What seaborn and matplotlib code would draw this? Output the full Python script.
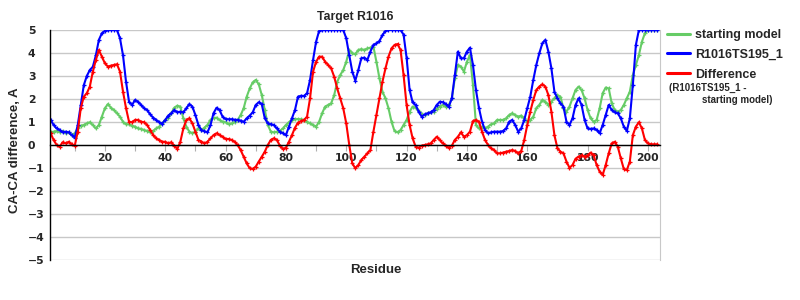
import numpy as np
import pandas as pd
import matplotlib
matplotlib.use("Agg")
import matplotlib.pyplot as plt
import seaborn as sns
from matplotlib.lines import Line2D

residues = list(range(1, 204))

starting_model = [
    0.51, 0.55, 0.58, 0.61, 0.55, 0.61, 0.51, 0.55, 0.43, 0.51,
    0.72, 0.84, 0.87, 0.94, 0.99, 0.87, 0.72, 0.87, 1.23, 1.6,
    1.78, 1.62, 1.52, 1.38, 1.23, 1.01, 0.9, 0.9, 0.84, 0.8,
    0.72, 0.7, 0.65, 0.61, 0.55, 0.61, 0.72, 0.8, 0.94, 1.09,
    1.19, 1.38, 1.62, 1.71, 1.67, 1.16, 0.8, 0.58, 0.51, 0.58,
    0.72, 0.65, 0.75, 0.87, 1.09, 1.16, 1.19, 1.09, 1.01, 0.99,
    0.9, 0.94, 1.01, 1.09, 1.3, 1.6, 2.1, 2.46, 2.72, 2.83,
    2.64, 2.17, 1.52, 0.87, 0.58, 0.55, 0.58, 0.61, 0.72, 0.87,
    0.99, 1.09, 1.12, 1.13, 1.12, 1.09, 1.01, 0.94, 0.87, 0.8,
    1.01, 1.38, 1.67, 1.74, 1.81, 2.17, 2.75, 3.04, 3.26, 3.62,
    4.13, 3.99, 3.95, 4.13, 4.17, 4.13, 4.2, 4.23, 4.28, 3.62,
    2.9, 2.32, 2.03, 1.6, 1.01, 0.61, 0.55, 0.65, 0.87, 1.09,
    1.45, 1.67, 1.62, 1.48, 1.33, 1.3, 1.38, 1.42, 1.45, 1.57,
    1.67, 1.74, 1.67, 1.74, 2.03, 2.9, 3.48, 3.41, 3.19, 3.62,
    3.91, 2.61, 0.87, 0.72, 0.8, 0.72, 0.8, 0.9, 0.94, 1.09,
    1.09, 1.09, 1.16, 1.3, 1.38, 1.3, 1.23, 1.28, 1.16, 1.01,
    1.09, 1.23, 1.6, 1.74, 1.96, 1.88, 1.74, 1.88, 2.03, 2.17,
    2.1, 1.6, 1.45, 1.67, 2.03, 2.39, 2.54, 2.39, 2.03, 1.52,
    1.16, 1.01, 1.09, 1.6, 2.25, 2.5, 2.46, 1.81, 1.52, 1.45,
    1.52, 1.74, 2.03, 2.32, 3.04, 3.48, 3.91, 4.49, 4.86, 5.0,
    5.0, 5.0, 5.0,
]

model_r1016ts195_1 = [
    1.3, 1.1, 0.87, 0.72, 0.65, 0.55, 0.58, 0.55, 0.43, 0.32,
    0.87, 1.74, 2.6, 3.0, 3.26, 3.4, 3.9, 4.57, 4.86, 4.96,
    5.0, 5.0, 5.0, 5.0, 4.64, 3.9, 2.75, 1.88, 1.74, 1.96,
    1.88, 1.74, 1.6, 1.52, 1.33, 1.19, 1.09, 0.99, 0.93, 1.09,
    1.28, 1.38, 1.52, 1.42, 1.45, 1.42, 1.6, 1.78, 1.67, 1.3,
    0.87, 0.65, 0.6, 0.55, 0.87, 1.38, 1.62, 1.52, 1.23, 1.13,
    1.12, 1.12, 1.1, 1.09, 1.06, 1.01, 1.16, 1.28, 1.42, 1.74,
    1.86, 1.77, 1.16, 0.94, 0.9, 0.87, 0.72, 0.58, 0.51, 0.43,
    0.8, 1.16, 1.52, 2.1, 2.14, 2.13, 2.25, 2.83, 3.7, 4.49,
    4.96, 5.0, 5.0, 5.0, 5.0, 5.0, 5.0, 5.0, 5.0, 4.64,
    3.9, 3.19, 2.8, 3.26, 3.77, 3.8, 3.7, 4.06, 4.35, 4.42,
    4.52, 4.78, 4.96, 5.0, 5.0, 5.0, 5.0, 5.0, 4.8, 3.8,
    2.4, 1.85, 1.74, 1.45, 1.23, 1.33, 1.38, 1.42, 1.52, 1.74,
    1.88, 1.86, 1.77, 1.67, 2.03, 3.04, 4.06, 3.77, 3.77, 4.06,
    4.23, 3.48, 2.39, 1.6, 1.01, 0.65, 0.51, 0.55, 0.58, 0.58,
    0.58, 0.61, 0.72, 1.01, 1.09, 0.87, 0.58, 0.72, 1.09, 1.6,
    2.1, 2.83, 3.48, 3.99, 4.42, 4.57, 4.06, 3.33, 2.32, 2.03,
    1.81, 1.67, 1.01, 0.87, 1.16, 1.74, 2.03, 1.74, 1.09, 0.72,
    0.7, 0.72, 0.65, 0.51, 0.87, 1.3, 1.74, 1.52, 1.42, 1.38,
    1.16, 0.8, 0.61, 1.16, 2.61, 4.35, 5.0, 5.0, 5.0, 5.0,
    5.0, 5.0, 5.0,
]

difference = [
    0.65, 0.51, 0.22, 0.0, -0.07, 0.12, 0.07, 0.14, 0.03, -0.03,
    0.58, 1.6, 2.1, 2.25, 2.54, 3.19, 3.7, 4.13, 3.84, 3.55,
    3.41, 3.45, 3.48, 3.51, 3.19, 2.32, 1.6, 1.01, 0.99, 1.09,
    1.09, 1.01, 0.99, 0.87, 0.65, 0.43, 0.29, 0.22, 0.14, 0.14,
    0.07, 0.12, -0.03, -0.17, 0.14, 0.72, 1.09, 1.16, 0.94, 0.58,
    0.22, 0.15, 0.07, 0.14, 0.29, 0.43, 0.51, 0.43, 0.36, 0.26,
    0.26, 0.22, 0.14, 0.0, -0.22, -0.51, -0.8, -1.01, -1.04, -0.94,
    -0.72, -0.51, -0.29, 0.0, 0.22, 0.29, 0.22, -0.03, -0.17, -0.12,
    0.14, 0.43, 0.75, 0.97, 1.04, 1.09, 1.23, 2.03, 3.19, 3.62,
    3.84, 3.84, 3.62, 3.48, 3.33, 2.97, 2.46, 2.03, 1.6, 0.94,
    0.0, -0.8, -1.01, -0.87, -0.65, -0.51, -0.36, -0.22, 0.58, 1.3,
    2.03, 2.75, 3.33, 3.84, 4.2, 4.35, 4.39, 4.13, 3.04, 1.74,
    0.87, 0.29, -0.07, -0.12, -0.03, 0.0, 0.03, 0.07, 0.22, 0.36,
    0.22, 0.07, -0.03, -0.12, -0.03, 0.22, 0.36, 0.55, 0.36, 0.43,
    0.58, 1.04, 1.09, 1.01, 0.58, 0.22, 0.0, -0.14, -0.22, -0.36,
    -0.36, -0.33, -0.29, -0.26, -0.22, -0.26, -0.36, -0.26, 0.22, 0.87,
    1.45, 1.96, 2.39, 2.54, 2.64, 2.54, 2.17, 1.45, 0.43, -0.14,
    -0.29, -0.36, -0.72, -0.99, -0.87, -0.6, -0.5, -0.45, -0.5, -0.45,
    -0.33, -0.45, -0.87, -1.16, -1.3, -0.87, -0.36, 0.07, 0.14, -0.07,
    -0.58, -1.04, -1.09, -0.72, 0.43, 0.8, 0.99, 0.72, 0.22, 0.07,
    0.03, 0.03, 0.03,
]

series_names = ["starting model", "R1016TS195_1", "Difference"]
series_colors = ["#66cc66", "#0000ff", "#ff0000"]

df = pd.DataFrame({
    "Residue": residues * 3,
    "value": starting_model + model_r1016ts195_1 + difference,
    "series": [series_names[0]] * len(residues)
              + [series_names[1]] * len(residues)
              + [series_names[2]] * len(residues),
})

sns.set_style("white")
plt.rcParams["font.family"] = ["DejaVu Sans"]

fig = plt.figure(figsize=(8, 3), dpi=100)
ax = fig.add_axes([50 / 800, 1 - 260 / 300, 610 / 800, 230 / 300])

for name, col in zip(series_names, series_colors):
    sub = df[df["series"] == name]
    sns.lineplot(data=sub, x="Residue", y="value", ax=ax, color=col,
                 linewidth=1.5, marker="+", markersize=3,
                 markeredgewidth=0.9, markeredgecolor=col, legend=False)

ax.set_xlim(1.8, 204)
ax.set_ylim(-5, 5)

# gridlines
ax.set_yticks(range(-5, 6))
ax.yaxis.grid(True, color="#c8c8c8", linewidth=1)
ax.xaxis.grid(False)
ax.set_axisbelow(True)

# spines
ax.spines["top"].set_visible(False)
ax.spines["right"].set_color("#c8c8c8")
ax.spines["left"].set_color("black")
ax.spines["left"].set_linewidth(1)
ax.spines["bottom"].set_position(("data", 0))
ax.spines["bottom"].set_color("black")
ax.spines["bottom"].set_linewidth(1)

ax.set_xticks(range(10, 201, 10))
ax.set_xticklabels([str(t) if t % 20 == 0 else "" for t in range(10, 201, 10)])
ax.tick_params(axis="x", direction="out", length=4, color="#b0b0b0",
               labelsize=7.8, pad=2, bottom=True)
ax.tick_params(axis="y", length=0, labelsize=7.8, pad=16)
ax.set_yticklabels([str(v).replace("-", "\u2212") for v in range(-5, 6)])
for lab in ax.get_xticklabels():
    lab.set_fontweight("bold")
for lab in ax.get_yticklabels():
    lab.set_fontweight("bold")
    lab.set_horizontalalignment("left")

ax.set_xlabel("")
ax.set_ylabel("")
fig.text(15 / 800, 1 - 150 / 300, "CA-CA difference, A", rotation=90,
         ha="center", va="center", fontsize=9.5, fontweight="bold",
         family=["Liberation Sans", "DejaVu Sans"])
ax.text(0.534, -0.045, "Residue", transform=ax.transAxes, ha="center",
        va="center", fontsize=9.5, fontweight="bold",
        family=["Liberation Sans", "DejaVu Sans"])
ax.set_title("Target R1016", fontsize=8.8, fontweight="bold", pad=7,
             family=["Liberation Sans", "DejaVu Sans"])

handles = [Line2D([], [], color=c, linewidth=2.2) for c in series_colors]
leg = fig.legend(handles, series_names, loc="upper left",
                 bbox_to_anchor=(667 / 800, 1 - 29 / 300), frameon=False,
                 prop={"family": ["Liberation Sans", "DejaVu Sans"],
                       "weight": "bold", "size": 9},
                 handlelength=1.8, handletextpad=0.45, labelspacing=0.62,
                 borderpad=0, borderaxespad=0)
fig.text(669 / 800, 1 - 88 / 300, "(R1016TS195_1 -", fontsize=7,
         fontweight="bold", ha="left", va="center",
         family=["Liberation Sans", "DejaVu Sans"])
fig.text(702 / 800, 1 - 100 / 300, "starting model)", fontsize=7,
         fontweight="bold", ha="left", va="center",
         family=["Liberation Sans", "DejaVu Sans"])

fig.savefig("out.png", dpi=100)
